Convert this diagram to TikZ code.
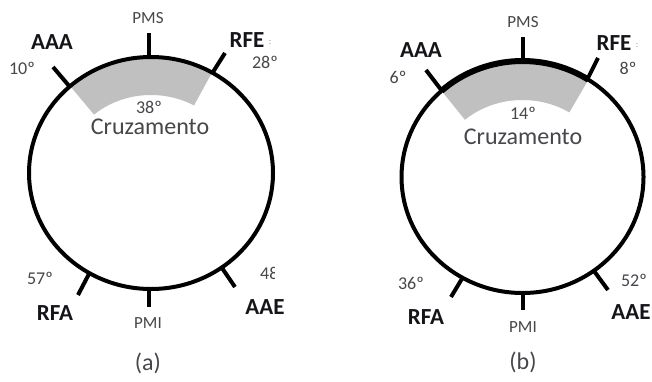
\documentclass[tikz,border=0pt]{standalone}
\usepackage{fontspec}
\setmainfont{Carlito}
\usetikzlibrary{calc}
\definecolor{bandgray}{RGB}{192,192,192}
\definecolor{txtgray}{RGB}{70,70,75}
\definecolor{lblblack}{RGB}{20,20,25}
\tikzset{
  ring/.style={line width=4pt, draw=black},
  tick/.style={line width=4pt, draw=black},
  band/.style={fill=bandgray},
  biglbl/.style={inner sep=0pt, text=lblblack, font=\fontsize{23}{23}\selectfont\bfseries},
  smalllbl/.style={inner sep=0pt, text=txtgray, font=\fontsize{18}{18}\selectfont},
  pmlbl/.style={inner sep=0pt, text=txtgray, font=\fontsize{17}{17}\selectfont},
  crlbl/.style={inner sep=0pt, text=txtgray, font=\fontsize{24}{24}\selectfont},
  caplbl/.style={inner sep=0pt, text=txtgray, font=\fontsize{24}{24}\selectfont},
  dotlbl/.style={inner sep=0pt, text=txtgray!60, font=\fontsize{9}{9}\selectfont}
}
\begin{document}
\begin{tikzpicture}[x=1pt,y=1pt]
\useasboundingbox (0,0) rectangle (652,381);
\fill[white] (0,0) rectangle (652,381);

% ---------------- (a) ----------------
\coordinate (ca) at (151,208);
\fill[band] ([shift={(131.5:122pt and 116pt)}]ca)
  arc[start angle=131.5, end angle=60, x radius=122pt, y radius=116pt]
  -- ([shift={(60:86pt and 78pt)}]ca)
  arc[start angle=60, end angle=131.5, x radius=86pt, y radius=78pt] -- cycle;
\draw[ring] (ca) ellipse[x radius=122pt, y radius=116pt];

\coordinate (apmsI) at (149,324);  \coordinate (apmsO) at (149,348);
\coordinate (aaaaI) at (70,294);   \coordinate (aaaaO) at (53,314);
\coordinate (arfeI) at (213,309);  \coordinate (arfeO) at (225,328);
\coordinate (arfaI) at (90,109);   \coordinate (arfaO) at (78,86);
\coordinate (apmiI) at (149,92);   \coordinate (apmiO) at (149,74);
\coordinate (aaaeI) at (222,113);  \coordinate (aaaeO) at (235,94);
\foreach \t in {apms,aaaa,arfe,arfa,apmi,aaae}
  \draw[tick] (\t I) -- (\t O);

\node[pmlbl]    (aPMS)  at (148,363) {PMS};
\node[biglbl]   (aAAA)  at (52,339)  {AAA};
\node[smalllbl] (a10)   at (22,313)  {10º};
\node[biglbl]   (aRFE)  at (247,341) {RFE};
\node[dotlbl]   (aRFEd) at (270,338) {:};
\node[smalllbl] (a28)   at (265,319) {28º};
\node[smalllbl] (a38)   at (149,274) {38º};
\node[crlbl]    (aCr)   at (150,254) {Cruzamento};
\node[smalllbl] (a57)   at (40,103)  {57º};
\node[biglbl]   (aRFA)  at (55,68)   {RFA};
\node[pmlbl]    (aPMI)  at (148,58)  {PMI};
\begin{scope}
  \clip (255,95) rectangle (274,120);
  \node[smalllbl, anchor=west] (a48) at (260,108) {48};
\end{scope}
\node[biglbl]   (aAAE)  at (265,74)  {AAE};
\node[caplbl]   (acap)  at (148,18)  {(a)};

% ---------------- (b) ----------------
\coordinate (cb) at (522.5,204);
\fill[band] ([shift={(132:121pt and 116pt)}]cb)
  arc[start angle=132, end angle=57, x radius=121pt, y radius=116pt]
  -- ([shift={(57:86pt and 77pt)}]cb)
  arc[start angle=57, end angle=132, x radius=86pt, y radius=77pt] -- cycle;
\draw[ring] (cb) ellipse[x radius=121pt, y radius=116pt];
\draw[line width=6pt] ([shift={(132:121pt and 116pt)}]cb)
  arc[start angle=132, end angle=57, x radius=121pt, y radius=116pt];

\coordinate (bpmsI) at (523,320);  \coordinate (bpmsO) at (523,344);
\coordinate (baaaI) at (442,290);  \coordinate (baaaO) at (426,311);
\coordinate (brfeI) at (588,303);  \coordinate (brfeO) at (598,323);
\coordinate (brfaI) at (463,104);  \coordinate (brfaO) at (451,84);
\coordinate (bpmiI) at (523,88);   \coordinate (bpmiO) at (523,71);
\coordinate (baaeI) at (594,110);  \coordinate (baaeO) at (608,91);
\foreach \t in {bpms,baaa,brfe,brfa,bpmi,baae}
  \draw[tick] (\t I) -- (\t O);

\node[pmlbl]    (bPMS)  at (523,359) {PMS};
\node[biglbl]   (bAAA)  at (421,331) {AAA};
\node[smalllbl] (b6)    at (398,304) {6º};
\node[biglbl]   (bRFE)  at (614,338) {RFE};
\node[dotlbl]   (bRFEd) at (637,335) {:};
\node[smalllbl] (b8)    at (628,313) {8º};
\node[smalllbl] (b14)   at (523,268) {14º};
\node[crlbl]    (bCr)   at (523,244) {Cruzamento};
\node[smalllbl] (b36)   at (411,98)  {36º};
\node[biglbl]   (bRFA)  at (426,64)  {RFA};
\node[pmlbl]    (bPMI)  at (523,54)  {PMI};
\node[smalllbl] (b52)   at (634,101) {52º};
\node[biglbl]   (bAAE)  at (631,69)  {AAE};
\node[caplbl]   (bcap)  at (523,19)  {(b)};
\end{tikzpicture}
\end{document}
